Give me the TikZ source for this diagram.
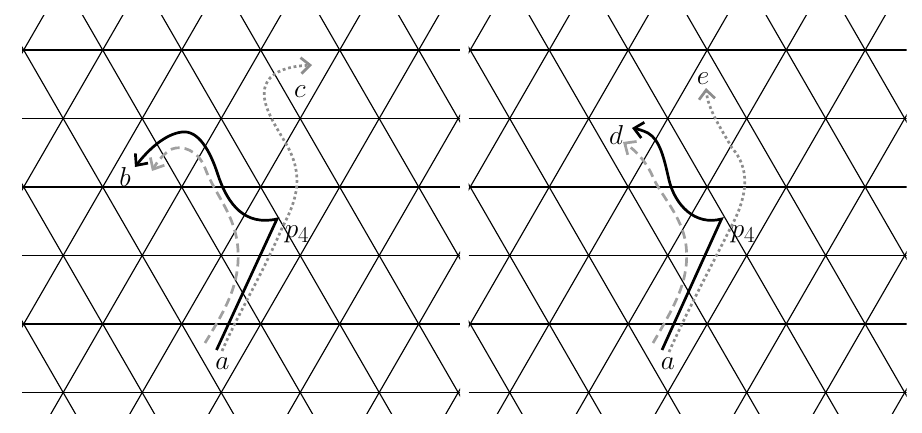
\documentclass[tikz,border=0pt]{standalone}
\usetikzlibrary{arrows.meta}
\definecolor{dashgray}{RGB}{160,160,160}
\definecolor{dotgray}{RGB}{140,140,140}
\newcommand{\lm}[1]{\scalebox{1.1}{$#1$}}
\begin{document}
\begin{tikzpicture}[x=1pt,y=-1pt,
  lat/.style={line width=1.15pt,black},
  lbl/.style={font=\Huge,inner sep=0pt},
  tipp/.style={-{Straight Barb[length=9pt,width=16pt]}},
  solidpath/.style={line width=2.7pt,black,tipp},
  dashpath/.style={line width=2.7pt,dashgray,dash pattern=on 9pt off 5pt,tipp},
  dotpath/.style={line width=2.7pt,dotgray,dash pattern=on 2.8pt off 2.8pt,tipp}]
\useasboundingbox (0,0) rectangle (922,432);
\foreach \ox in {0,446.5} {
  \begin{scope}[xshift=\ox pt]
    \clip (22,15) rectangle (460,413);
    \foreach \k in {0,...,5} \draw[lat] (22,50+68.5*\k) -- (460,50+68.5*\k);
    \foreach \i in {-4,...,10} {
      \draw[lat] (23.7+79*\i-39.5,50-68.5) -- ++(39.5*7,68.5*7);
      \draw[lat] (23.7+79*\i+39.5,50-68.5) -- ++(-39.5*7,68.5*7);
    }
  \end{scope}
}
% ---- left panel ----
\node[lbl] (a1) at (222.5,364) {\lm{a}};
\node[lbl] (b1) at (125,177) {\lm{b}};
\node[lbl] (c1) at (300,92) {\lm{c}};
\node[lbl] (p1) at (297,234) {\lm{p_4}};
\coordinate (s1) at (216.5,350);
\coordinate (k1) at (277,219);
\coordinate (bt1) at (135,167);
\coordinate (ds1) at (205,343);
\coordinate (dt1) at (152,171);
\coordinate (os1) at (222,351);
\coordinate (ot1) at (312,65);
\draw[solidpath] (s1) -- (k1) .. controls (245,226) and (228,205) .. (218,175)
  .. controls (210,150) and (198,130) .. (182,132)
  .. controls (165,134) and (148,150) .. (bt1);
\draw[dashpath] (ds1) .. controls (225,310) and (240,285) .. (238,250)
  .. controls (236,215) and (215,195) .. (205,168)
  .. controls (198,150) and (182,145) .. (172,149)
  .. controls (164,153) and (157,162) .. (dt1);
\draw[dotpath] (os1) .. controls (240,310) and (262,275) .. (282,228)
  .. controls (297,200) and (305,175) .. (285,142)
  .. controls (272,120) and (255,95) .. (270,78)
  .. controls (280,68) and (295,66) .. (ot1);
% ---- right panel ----
\node[lbl] (a2) at (668,364) {\lm{a}};
\node[lbl] (d2) at (616,135) {\lm{d}};
\node[lbl] (e2) at (703,79) {\lm{e}};
\node[lbl] (p2) at (743,234) {\lm{p_4}};
\coordinate (s2) at (662,350);
\coordinate (k2) at (721.5,219);
\coordinate (bt2) at (632,128);
\coordinate (ds2) at (653,343);
\coordinate (dt2) at (623,142);
\coordinate (os2) at (669,352);
\coordinate (ot2) at (706,88);
\draw[solidpath] (s2) -- (k2) .. controls (695,226) and (675,205) .. (669,180)
  .. controls (664,158) and (660,140) .. (648,133)
  .. controls (642,130) and (637,129) .. (bt2);
\draw[dashpath] (ds2) .. controls (675,305) and (690,280) .. (686,245)
  .. controls (682,215) and (660,195) .. (652,175)
  .. controls (645,160) and (635,150) .. (dt2);
\draw[dotpath] (os2) .. controls (690,305) and (712,265) .. (732,225)
  .. controls (748,195) and (750,168) .. (732,148)
  .. controls (722,130) and (708,110) .. (ot2);
\end{tikzpicture}
\end{document}
